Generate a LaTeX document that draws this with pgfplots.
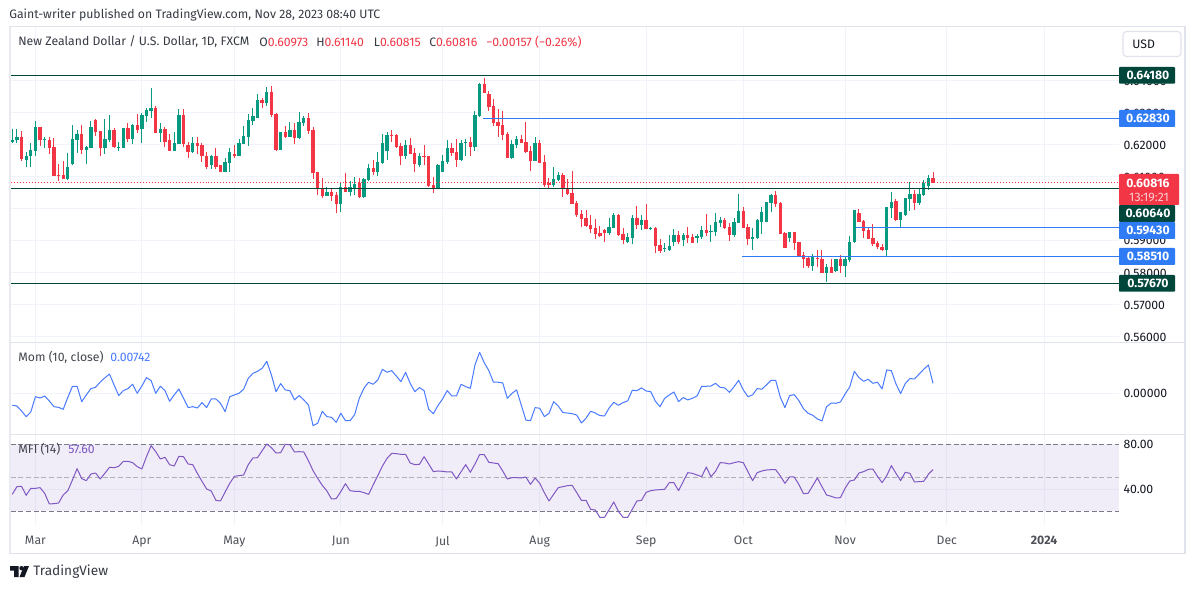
\documentclass[border=0pt]{standalone}
\usepackage{fontspec}
\setmainfont{Fira Sans}
\usepackage{pgfplots}
\usepackage{pgfplotstable}
\pgfplotsset{compat=1.18}
\definecolor{cup}{HTML}{089981}
\definecolor{cdn}{HTML}{F23645}
\definecolor{tagg}{HTML}{00463A}
\definecolor{tagb}{HTML}{2F7BF5}
\definecolor{momc}{HTML}{2962FF}
\definecolor{mfic}{HTML}{7E57C2}
\definecolor{gridc}{HTML}{F0F3FA}
\definecolor{framec}{HTML}{E0E3EB}
\definecolor{txt}{HTML}{131722}
\definecolor{dashc}{HTML}{787B86}
\newcommand{\fs}{\fontsize{7.35}{8.8}\selectfont}
% columns: index open high low close
\pgfplotstableread{
i o h l c
0 0.6210 0.6250 0.6205 0.6217
1 0.6214 0.6250 0.6205 0.6226
3 0.6154 0.6179 0.6132 0.6167
4 0.6164 0.6207 0.6132 0.6185
5 0.6182 0.6276 0.6167 0.6257
7 0.6214 0.6226 0.6192 0.6220
12 0.6095 0.6176 0.6092 0.6132
13 0.6139 0.6263 0.6136 0.6220
14 0.6217 0.6248 0.6176 0.6235
16 0.6185 0.6198 0.6139 0.6195
17 0.6192 0.6276 0.6189 0.6257
20 0.6189 0.6282 0.6173 0.6220
21 0.6217 0.6295 0.6210 0.6248
23 0.6192 0.6210 0.6182 0.6195
24 0.6192 0.6254 0.6192 0.6254
26 0.6220 0.6267 0.6204 0.6263
28 0.6251 0.6301 0.6207 0.6295
29 0.6292 0.6316 0.6273 0.6310
30 0.6307 0.6379 0.6285 0.6316
32 0.6238 0.6270 0.6210 0.6251
35 0.6182 0.6242 0.6182 0.6207
36 0.6204 0.6313 0.6204 0.6295
39 0.6179 0.6226 0.6176 0.6207
43 0.6136 0.6170 0.6126 0.6167
46 0.6114 0.6160 0.6114 0.6148
47 0.6145 0.6189 0.6117 0.6179
49 0.6164 0.6220 0.6164 0.6207
50 0.6204 0.6260 0.6204 0.6229
51 0.6226 0.6298 0.6198 0.6279
52 0.6276 0.6316 0.6263 0.6292
53 0.6285 0.6360 0.6285 0.6341
55 0.6332 0.6382 0.6323 0.6366
58 0.6185 0.6242 0.6185 0.6242
60 0.6226 0.6273 0.6226 0.6248
62 0.6223 0.6304 0.6220 0.6273
63 0.6270 0.6292 0.6260 0.6285
68 0.6042 0.6070 0.6042 0.6054
71 0.6017 0.6082 0.5992 0.6070
73 0.6054 0.6086 0.6042 0.6070
74 0.6067 0.6101 0.6045 0.6079
76 0.6036 0.6098 0.6033 0.6095
77 0.6092 0.6142 0.6086 0.6129
79 0.6117 0.6179 0.6104 0.6148
80 0.6145 0.6235 0.6142 0.6207
81 0.6182 0.6242 0.6154 0.6232
85 0.6164 0.6217 0.6157 0.6201
88 0.6136 0.6176 0.6132 0.6164
92 0.6067 0.6142 0.6064 0.6136
93 0.6114 0.6170 0.6114 0.6151
94 0.6148 0.6214 0.6142 0.6189
97 0.6154 0.6214 0.6151 0.6207
98 0.6208 0.6220 0.6167 0.6210
100 0.6195 0.6307 0.6182 0.6295
101 0.6292 0.6394 0.6288 0.6391
108 0.6160 0.6217 0.6157 0.6204
109 0.6201 0.6229 0.6189 0.6220
113 0.6151 0.6226 0.6151 0.6207
117 0.6076 0.6132 0.6070 0.6095
118 0.6092 0.6117 0.6086 0.6107
129 0.5926 0.5973 0.5920 0.5945
130 0.5942 0.5986 0.5939 0.5980
133 0.5898 0.5926 0.5895 0.5911
134 0.5908 0.5980 0.5889 0.5973
136 0.5951 0.5980 0.5933 0.5967
138 0.5936 0.5945 0.5933 0.5939
141 0.5874 0.5895 0.5867 0.5877
142 0.5873 0.5920 0.5870 0.5883
143 0.5898 0.5936 0.5883 0.5920
145 0.5902 0.5926 0.5883 0.5920
148 0.5908 0.5923 0.5895 0.5917
149 0.5913 0.5947 0.5907 0.5935
151 0.5928 0.5950 0.5897 0.5930
152 0.5928 0.5988 0.5916 0.5960
153 0.5956 0.5975 0.5944 0.5966
156 0.5919 0.5972 0.5913 0.5960
157 0.5956 0.6047 0.5956 0.5994
160 0.5907 0.5941 0.5872 0.5913
161 0.5910 0.5969 0.5907 0.5966
162 0.5960 0.6006 0.5922 0.5991
163 0.5960 0.6022 0.5960 0.6022
164 0.6019 0.6047 0.5991 0.6044
168 0.5910 0.5928 0.5897 0.5928
173 0.5822 0.5860 0.5807 0.5850
176 0.5800 0.5829 0.5772 0.5819
178 0.5807 0.5844 0.5804 0.5844
180 0.5822 0.5854 0.5788 0.5844
181 0.5841 0.5916 0.5835 0.5897
182 0.5897 0.5997 0.5894 0.5997
189 0.5872 0.6006 0.5854 0.6006
190 0.6003 0.6053 0.5972 0.6022
192 0.5966 0.5991 0.5944 0.5991
193 0.5981 0.6034 0.5978 0.6034
194 0.6031 0.6084 0.5994 0.6047
196 0.6019 0.6063 0.6013 0.6047
197 0.6044 0.6091 0.6041 0.6081
198 0.6072 0.6106 0.6059 0.6097
}\upbars
\pgfplotstableread{
i o h l c
2 0.6226 0.6245 0.6151 0.6157
6 0.6257 0.6257 0.6198 0.6214
8 0.6214 0.6226 0.6173 0.6192
9 0.6195 0.6223 0.6104 0.6104
10 0.6106 0.6139 0.6086 0.6104
11 0.6107 0.6151 0.6095 0.6095
15 0.6235 0.6263 0.6173 0.6185
18 0.6279 0.6282 0.6229 0.6242
19 0.6245 0.6245 0.6167 0.6189
22 0.6248 0.6254 0.6192 0.6195
25 0.6254 0.6270 0.6210 0.6220
27 0.6263 0.6298 0.6238 0.6248
31 0.6316 0.6323 0.6238 0.6238
33 0.6251 0.6257 0.6195 0.6210
34 0.6214 0.6235 0.6182 0.6182
37 0.6295 0.6313 0.6195 0.6204
38 0.6201 0.6210 0.6160 0.6179
40 0.6207 0.6226 0.6173 0.6198
41 0.6201 0.6207 0.6148 0.6164
42 0.6167 0.6179 0.6126 0.6132
44 0.6167 0.6189 0.6126 0.6132
45 0.6136 0.6136 0.6114 0.6114
48 0.6173 0.6201 0.6160 0.6164
54 0.6341 0.6348 0.6316 0.6332
56 0.6366 0.6385 0.6288 0.6295
57 0.6298 0.6301 0.6182 0.6185
59 0.6242 0.6260 0.6223 0.6226
61 0.6248 0.6270 0.6204 0.6223
64 0.6285 0.6301 0.6235 0.6245
65 0.6248 0.6257 0.6095 0.6111
66 0.6114 0.6114 0.6045 0.6061
67 0.6064 0.6098 0.6033 0.6042
69 0.6054 0.6067 0.6026 0.6042
70 0.6045 0.6054 0.5986 0.6017
72 0.6070 0.6111 0.6054 0.6054
75 0.6082 0.6098 0.6033 0.6036
78 0.6129 0.6154 0.6107 0.6117
82 0.6232 0.6248 0.6210 0.6229
83 0.6232 0.6235 0.6192 0.6195
84 0.6198 0.6207 0.6136 0.6164
86 0.6201 0.6223 0.6173 0.6173
87 0.6176 0.6189 0.6117 0.6139
89 0.6164 0.6201 0.6136 0.6162
90 0.6164 0.6167 0.6070 0.6073
91 0.6076 0.6101 0.6051 0.6067
95 0.6189 0.6207 0.6164 0.6176
96 0.6179 0.6220 0.6132 0.6154
99 0.6210 0.6226 0.6167 0.6195
102 0.6391 0.6410 0.6363 0.6363
103 0.6360 0.6370 0.6307 0.6320
104 0.6323 0.6345 0.6260 0.6270
105 0.6273 0.6313 0.6226 0.6260
106 0.6263 0.6307 0.6214 0.6232
107 0.6235 0.6242 0.6160 0.6160
110 0.6220 0.6232 0.6207 0.6207
111 0.6210 0.6273 0.6176 0.6179
112 0.6182 0.6198 0.6120 0.6151
114 0.6207 0.6217 0.6145 0.6145
115 0.6148 0.6170 0.6070 0.6076
116 0.6082 0.6098 0.6061 0.6076
119 0.6107 0.6111 0.6036 0.6064
120 0.6067 0.6095 0.6045 0.6048
121 0.6051 0.6120 0.6017 0.6017
122 0.6020 0.6026 0.5976 0.5980
123 0.5983 0.5998 0.5945 0.5970
124 0.5973 0.5998 0.5945 0.5948
125 0.5951 0.5980 0.5926 0.5936
126 0.5939 0.5970 0.5905 0.5923
127 0.5926 0.5948 0.5911 0.5917
128 0.5933 0.5936 0.5898 0.5926
131 0.5980 0.5983 0.5917 0.5920
132 0.5923 0.5942 0.5889 0.5902
135 0.5973 0.6008 0.5936 0.5951
137 0.5967 0.6017 0.5936 0.5936
139 0.5939 0.5945 0.5861 0.5883
140 0.5886 0.5905 0.5861 0.5870
144 0.5920 0.5930 0.5889 0.5898
146 0.5920 0.5945 0.5895 0.5908
147 0.5911 0.5923 0.5895 0.5895
150 0.5935 0.5985 0.5916 0.5925
154 0.5966 0.5972 0.5938 0.5941
155 0.5944 0.5956 0.5900 0.5919
158 0.5994 0.6006 0.5941 0.5941
159 0.5944 0.5953 0.5888 0.5907
165 0.6044 0.6056 0.6006 0.6016
166 0.6019 0.6022 0.5922 0.5922
167 0.5925 0.5928 0.5878 0.5878
169 0.5928 0.5928 0.5872 0.5894
170 0.5897 0.5897 0.5850 0.5854
171 0.5857 0.5866 0.5816 0.5844
172 0.5847 0.5850 0.5816 0.5822
174 0.5847 0.5872 0.5819 0.5844
175 0.5844 0.5872 0.5800 0.5800
177 0.5819 0.5844 0.5800 0.5800
179 0.5844 0.5857 0.5800 0.5822
183 0.5988 0.6000 0.5960 0.5960
184 0.5963 0.5966 0.5910 0.5932
185 0.5935 0.5941 0.5907 0.5907
186 0.5910 0.5953 0.5885 0.5891
187 0.5894 0.5900 0.5875 0.5882
188 0.5882 0.5891 0.5869 0.5872
191 0.6025 0.6031 0.5963 0.5966
195 0.6047 0.6059 0.5997 0.6019
199 0.6097 0.6114 0.6082 0.6082
}\dnbars
\pgfplotstableread{
i mom mfi
0 -0.0089 35.3
1 -0.0094 42.2
2 -0.0131 42.5
3 -0.0173 34.4
4 -0.0138 40.7
5 -0.0025 40.7
6 -0.0035 41.3
7 -0.0020 36.2
8 -0.0057 26.6
9 -0.0099 26.9
10 -0.0104 27.5
11 -0.0119 34.7
12 -0.0030 38.6
13 0.0052 48.2
14 0.0052 58.4
15 -0.0062 49.4
16 -0.0012 47.6
17 0.0035 53.6
18 0.0044 54.5
19 0.0084 49.1
20 0.0114 54.2
21 0.0143 59.6
22 0.0062 59.3
23 -0.0017 60.5
24 0.0020 65.0
25 0.0035 65.0
26 0.0067 63.8
27 0.0000 60.2
28 0.0054 58.1
29 0.0116 69.2
30 0.0094 79.1
31 0.0000 73.7
32 0.0052 67.1
33 0.0020 68.6
34 -0.0059 62.0
35 -0.0012 60.8
36 0.0032 69.5
37 -0.0037 69.2
38 -0.0106 62.6
39 -0.0099 62.0
40 -0.0109 54.2
41 -0.0069 47.0
42 -0.0106 40.1
43 -0.0042 38.3
44 -0.0042 29.9
45 -0.0074 29.3
46 -0.0136 37.4
47 -0.0025 45.2
48 -0.0012 51.5
49 0.0000 52.1
50 0.0030 52.7
51 0.0111 62.0
52 0.0148 68.0
53 0.0163 68.3
54 0.0185 74.6
55 0.0237 80.6
56 0.0136 77.3
57 0.0012 72.5
58 0.0072 72.8
59 0.0025 80.3
60 0.0020 80.0
61 -0.0049 73.4
62 -0.0017 73.7
63 -0.0049 73.4
64 -0.0086 65.6
65 -0.0240 56.6
66 -0.0222 49.7
67 -0.0133 43.4
68 -0.0173 38.3
69 -0.0178 31.1
70 -0.0215 31.4
71 -0.0148 37.7
72 -0.0203 44.9
73 -0.0203 38.6
74 -0.0158 38.0
75 -0.0037 38.0
76 0.0037 36.8
77 0.0082 35.3
78 0.0067 43.7
79 0.0099 52.1
80 0.0178 60.8
81 0.0156 67.7
82 0.0168 72.2
83 0.0128 71.9
84 0.0086 71.3
85 0.0156 71.3
86 0.0074 63.5
87 0.0012 62.0
88 0.0042 62.3
89 0.0020 69.2
90 -0.0119 62.6
91 -0.0151 55.7
92 -0.0091 56.3
93 -0.0042 56.0
94 0.0020 55.4
95 -0.0020 55.4
96 -0.0020 49.1
97 0.0067 55.7
98 0.0049 62.0
99 0.0037 55.1
100 0.0210 62.6
101 0.0304 71.0
102 0.0227 71.0
103 0.0168 64.1
104 0.0082 63.5
105 0.0082 62.9
106 0.0077 56.3
107 -0.0037 49.1
108 0.0000 50.3
109 0.0025 50.3
110 -0.0086 50.0
111 -0.0198 50.9
112 -0.0203 44.3
113 -0.0106 50.0
114 -0.0111 45.2
115 -0.0173 36.8
116 -0.0148 29.3
117 -0.0062 35.3
118 -0.0094 41.3
119 -0.0143 42.2
120 -0.0146 43.1
121 -0.0151 43.4
122 -0.0161 36.8
123 -0.0220 29.9
124 -0.0185 29.9
125 -0.0133 21.8
126 -0.0146 21.2
127 -0.0165 14.6
128 -0.0168 14.6
129 -0.0109 21.5
130 -0.0067 28.4
131 -0.0089 20.0
132 -0.0069 14.6
133 -0.0057 14.6
134 0.0022 21.8
135 0.0020 29.3
136 0.0040 29.9
137 0.0017 37.1
138 0.0012 38.6
139 -0.0059 39.2
140 -0.0099 39.5
141 -0.0037 39.8
142 -0.0012 45.8
143 0.0010 45.8
144 -0.0062 38.6
145 -0.0032 46.7
146 -0.0049 54.8
147 -0.0037 54.2
148 -0.0020 52.7
149 0.0052 51.2
150 0.0052 59.9
151 0.0054 51.2
152 0.0074 56.0
153 0.0044 63.8
154 0.0040 63.5
155 0.0007 62.6
156 0.0049 63.8
157 0.0096 64.7
158 0.0025 63.8
159 -0.0025 55.7
160 -0.0012 47.6
161 0.0035 54.8
162 0.0030 56.3
163 0.0062 57.2
164 0.0096 57.5
165 0.0096 57.5
166 -0.0030 51.8
167 -0.0106 45.2
168 -0.0017 50.9
169 -0.0010 50.9
170 -0.0054 44.3
171 -0.0114 35.9
172 -0.0148 36.2
173 -0.0163 43.1
174 -0.0190 50.0
175 -0.0205 42.2
176 -0.0099 34.7
177 -0.0072 33.5
178 -0.0074 32.0
179 -0.0064 32.3
180 -0.0005 40.7
181 0.0047 47.3
182 0.0163 48.2
183 0.0116 54.5
184 0.0089 55.7
185 0.0104 57.8
186 0.0074 58.1
187 0.0082 51.5
188 0.0032 45.8
189 0.0173 52.1
190 0.0168 61.1
191 0.0069 54.2
192 -0.0002 47.6
193 0.0072 55.1
194 0.0109 54.2
195 0.0106 46.4
196 0.0143 46.7
197 0.0178 47.0
198 0.0210 53.3
199 0.00742 57.6
}\indic
\pgfplotsset{
  tvpane/.style={
    scale only axis, width=665.1pt, height=54.6pt, anchor=north west,
    xmin=-0.39, xmax=239.2,
    axis line style={draw=none}, major tick length=0pt,
    xtick={5,28,48,71,93,114,137,158,180,202,223},
    grid=major, major grid style={color=gridc, line width=0.6pt},
    yticklabel pos=right, scaled y ticks=false,
    y tick label style={font=\fs, text=txt, anchor=west, xshift=2.6pt, inner sep=0pt},
  },
}
\newcommand{\tvtag}[4]{% y top, y bottom, colour, text
  \fill[#3, rounded corners=0.5pt] (1119,#1) rectangle (1175,#2);
  \node[font=\fs\bfseries, text=white, inner sep=0pt] at (1148,{(#1+#2)/2}) {#4};
}
\begin{document}
\begin{tikzpicture}[x=0.6pt,y=-0.6pt]
\useasboundingbox (0,0) rectangle (1195,589);
\fill[white] (0,0) rectangle (1195,589);
\begin{axis}[tvpane, at={(6.3pt,-16pt)}, height=190.2pt,
  ymin=0.55791, ymax=0.65697, xticklabels={},
  ytick={0.56,0.57,0.58,0.59,0.60,0.61,0.62,0.63,0.64},
  yticklabels={0.56000,0.57000,0.58000,0.59000,0.60000,0.61000,0.62000,0.63000,0.64000}]
  \addplot[draw=none, mark=none, forget plot, error bars/.cd, y dir=plus, y explicit, error mark=none,
    error bar style={draw=cup, solid, line width=0.6pt}]
    table[x=i, y=l, y error expr=\thisrow{h}-\thisrow{l}] {\upbars};
  \addplot[draw=none, mark=none, forget plot, error bars/.cd, y dir=plus, y explicit, error mark=none,
    error bar style={draw=cdn, solid, line width=0.6pt}]
    table[x=i, y=l, y error expr=\thisrow{h}-\thisrow{l}] {\dnbars};
  \addplot[draw=none, mark=none, forget plot, error bars/.cd, y dir=plus, y explicit, error mark=none,
    error bar style={draw=cup, solid, line width=2pt}]
    table[x=i, y=o, y error expr=\thisrow{c}-\thisrow{o}] {\upbars};
  \addplot[draw=none, mark=none, forget plot, error bars/.cd, y dir=plus, y explicit, error mark=none,
    error bar style={draw=cdn, solid, line width=2pt}]
    table[x=i, y=c, y error expr=\thisrow{o}-\thisrow{c}] {\dnbars};
  % horizontal levels
  \addplot[tagg, line width=0.7pt] coordinates {(-0.39,0.6418) (239.2,0.6418)};
  \addplot[tagg, line width=0.7pt] coordinates {(-0.39,0.6064) (239.2,0.6064)};
  \addplot[tagg, line width=0.7pt] coordinates {(-0.39,0.5767) (239.2,0.5767)};
  \addplot[tagb, line width=0.7pt] coordinates {(101.8,0.6283) (239.2,0.6283)};
  \addplot[tagb, line width=0.7pt] coordinates {(182.4,0.5943) (239.2,0.5943)};
  \addplot[tagb, line width=0.7pt] coordinates {(157.8,0.5851) (239.2,0.5851)};
  \addplot[cdn, line width=0.6pt, dash pattern=on 0.6pt off 1.2pt] coordinates {(-0.39,0.60816) (239.2,0.60816)};
\end{axis}
\begin{axis}[tvpane, at={(6.3pt,-205.8pt)},
  ymin=-0.03016, ymax=0.03727, xticklabels={},
  ytick={0}, yticklabels={0.00000}]
  \addplot[momc!85!white, line width=0.6pt, line join=round] table[x=i, y=mom] {\indic};
\end{axis}
\begin{axis}[tvpane, at={(6.3pt,-260.4pt)},
  ymin=7.7, ymax=89.6,
  xticklabels={Mar,Apr,May,Jun,Jul,Aug,Sep,Oct,Nov,Dec,\textbf{2024}},
  x tick label style={font=\fs, text=txt!75!white, yshift=-3pt},
  ytick={40,80}, yticklabels={40.00,80.00}]
  \addplot[fill=mfic, fill opacity=0.1, draw=none] coordinates {(-0.39,20) (239.2,20) (239.2,80) (-0.39,80)} --cycle;
  \addplot[dashc, line width=0.6pt, dash pattern=on 3pt off 1.6pt] coordinates {(-0.39,80) (239.2,80)};
  \addplot[dashc, line width=0.6pt, dash pattern=on 3pt off 1.6pt] coordinates {(-0.39,20) (239.2,20)};
  \addplot[dashc!60!white, line width=0.6pt, dash pattern=on 3pt off 1.6pt] coordinates {(-0.39,50) (239.2,50)};
  \addplot[mfic, line width=0.6pt, line join=round] table[x=i, y=mfi] {\indic};
\end{axis}
% frame
\fill[framec!70!white] (9,26) rectangle (11,554);
\draw[framec, line width=0.9pt] (10,26.5) -- (1185,26.5);
\draw[framec, line width=0.9pt] (10,342.5) -- (1185,342.5);
\draw[framec, line width=0.9pt] (10,434.3) -- (1185,434.3);
\draw[framec, line width=0.9pt] (10,553.5) -- (1185,553.5);
\draw[framec, line width=0.9pt] (1185,26) -- (1185,554);
% price tags
\tvtag{67}{83.7}{tagg}{0.64180}
\tvtag{110}{127}{tagb}{0.62830}
\tvtag{205}{222}{tagg}{0.60640}
\tvtag{222}{239}{tagb}{0.59430}
\tvtag{248}{265}{tagb}{0.58510}
\tvtag{275}{291.7}{tagg}{0.57670}
\fill[cdn, rounded corners=0.5pt] (1119,174) rectangle (1179,205);
\node[font=\fs\bfseries, text=white, inner sep=0pt] at (1148,183) {0.60816};
\node[font=\fs, text=white!75!cdn, inner sep=0pt] at (1149,197) {13:19:21};
% USD
\draw[framec, line width=0.7pt, rounded corners=2pt, fill=white] (1123,31.5) rectangle (1181,56.5);
\node[font=\fs, text=txt, anchor=west, inner sep=0pt] at (1132,44) {USD};
% header
\node[font=\fs, text=txt!85!white, anchor=west, inner sep=0pt] at (9,15) {Gaint-writer published on TradingView.com, Nov 28, 2023 08:40 UTC};
\node[font=\fs, text=txt!85!white, anchor=west, inner sep=0pt] at (18,42) {New Zealand Dollar / U.S. Dollar, 1D, FXCM};
\node[font=\fs, text=txt!85!white, anchor=west, inner sep=0pt] at (259,42) {O\textcolor{cdn}{0.60973}};
\node[font=\fs, text=txt!85!white, anchor=west, inner sep=0pt] at (316,42) {H\textcolor{cdn}{0.61140}};
\node[font=\fs, text=txt!85!white, anchor=west, inner sep=0pt] at (373.6,42) {L\textcolor{cdn}{0.60815}};
\node[font=\fs, text=txt!85!white, anchor=west, inner sep=0pt] at (429,42) {C\textcolor{cdn}{0.60816}};
\node[font=\fs, text=cdn, anchor=west, inner sep=0pt] at (486,42) {−0.00157 (−0.26\%)};
% pane legends
\node[font=\fs, text=txt!80!white, anchor=west, inner sep=0pt] at (18,357.5) {Mom (10, close)};
\node[font=\fs, text=momc!85!white, anchor=west, inner sep=0pt] at (110,357.5) {0.00742};
\node[font=\fs, text=txt!80!white, anchor=west, inner sep=0pt] at (18,449.5) {MFI (14)};
\node[font=\fs, text=mfic, anchor=west, inner sep=0pt] at (68,449.5) {57.60};
% logo
\fill[txt] (10,566) -- (18.5,566) -- (18.5,577) -- (14,577) -- (14,570.5) -- (10,570.5) -- cycle;
\fill[txt] (21.5,568.2) circle (2.2);
\fill[txt] (24,566) -- (29,566) -- (24.5,577) -- (19.5,577) -- cycle;
\node[font=\fontsize{8.2}{10}\selectfont, text=txt!85!white, anchor=west, inner sep=0pt] at (33,572) {TradingView};
\end{tikzpicture}
\end{document}
